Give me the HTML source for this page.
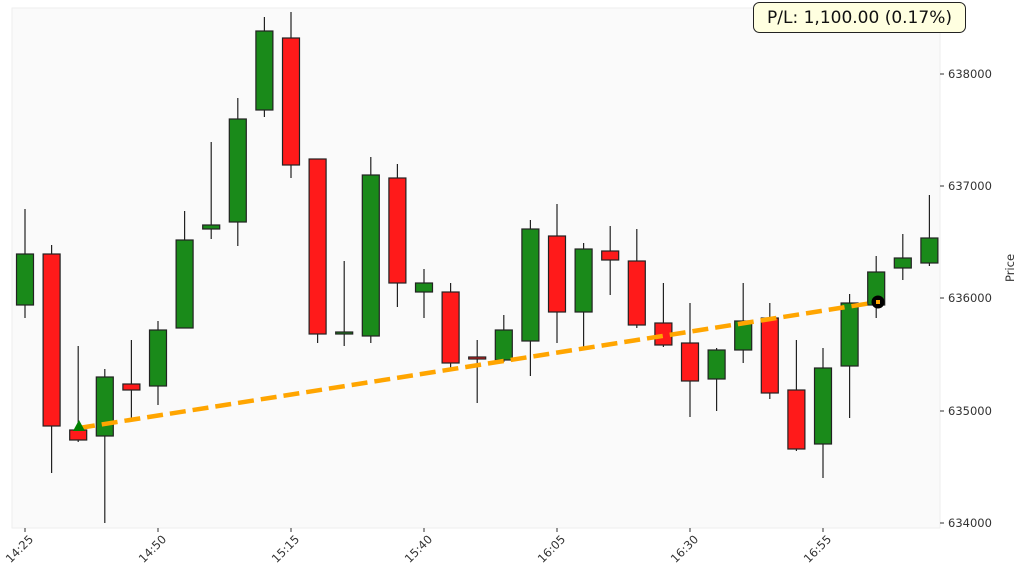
<!DOCTYPE html>
<html><head><meta charset="utf-8"><style>
body{margin:0;background:#fff;}
svg{display:block;font-family:"DejaVu Sans","Liberation Sans",sans-serif;}
</style></head><body>
<svg width="1024" height="579" viewBox="0 0 1024 579" xmlns="http://www.w3.org/2000/svg">
<rect x="12" y="8" width="928" height="520" fill="#fafafa" stroke="#eeeeee"/>
<g id="c" stroke="#222" stroke-width="1.2"></g>
<g font-size="11.5" fill="#333">
<line x1="940" y1="74" x2="944" y2="74" stroke="#333"/><text x="948" y="78">638000</text>
<line x1="940" y1="186" x2="944" y2="186" stroke="#333"/><text x="948" y="190">637000</text>
<line x1="940" y1="298" x2="944" y2="298" stroke="#333"/><text x="948" y="302">636000</text>
<line x1="940" y1="411" x2="944" y2="411" stroke="#333"/><text x="948" y="415">635000</text>
<line x1="940" y1="523" x2="944" y2="523" stroke="#333"/><text x="948" y="527">634000</text>
<text transform="translate(1014,268) rotate(-90)" text-anchor="middle">Price</text>
</g>
<g font-size="11.5" fill="#333" id="xt"></g>
<line x1="79" y1="428" x2="878" y2="302" stroke="#ffa500" stroke-width="4.5" stroke-dasharray="16,7"/>
<polygon points="79,420 73,431 85,431" fill="#008000"/>
<circle cx="878" cy="302" r="6.5" fill="#000"/>
<rect x="876" y="300" width="4" height="4" fill="#ffa500"/>
<rect x="753.5" y="2.5" width="212" height="30" rx="6" fill="#ffffe0" stroke="#222"/>
<text x="859.5" y="23" font-size="17" text-anchor="middle" fill="#111">P/L: 1,100.00 (0.17%)</text>
</svg>
<script>
var d=[["G",254,305,209,318],["R",254,426,245,473],["R",430,440,346,442],["G",377,436,369,523],["R",384,390,340,420],["G",330,386,321,405],["G",240,328,211,328],["G",225,229,142,239],["G",119,222,98,246],["G",31,110,17,117],["R",38,165,12,178],["R",159,334,159,343],["G",332,334,261,346],["G",175,336,157,343],["R",178,283,164,307],["G",283,292,269,318],["R",292,363,283,368],["R",357,359,340,403],["G",330,360,315,362],["G",229,341,220,376],["R",236,312,204,343],["G",249,312,243,347],["R",251,260,226,295],["R",261,325,229,328],["R",323,345,283,347],["R",343,381,303,417],["G",350,379,348,411],["G",321,350,283,363],["R",318,393,303,399],["R",390,449,340,451],["G",368,444,348,478],["G",303,366,294,418],["G",272,305,256,318],["G",258,268,234,280],["G",238,263,195,266]];
var g=document.getElementById("c"),s="";
d.forEach(function(c,i){var x=25+i*26.6;s+='<line x1="'+x+'" y1="'+c[3]+'" x2="'+x+'" y2="'+c[4]+'"/>';s+='<rect x="'+(x-8.5)+'" y="'+c[1]+'" width="17" height="'+Math.max(2,c[2]-c[1])+'" fill="'+(c[0]=="G"?"#1a8a1a":"#ff1a1a")+'"/>';});
g.innerHTML=s;
var t=["14:25","14:50","15:15","15:40","16:05","16:30","16:55"],xt=document.getElementById("xt"),u="";
t.forEach(function(l,i){var x=25+i*133;u+='<line x1="'+x+'" y1="528" x2="'+x+'" y2="532" stroke="#333"/><text transform="translate('+(x+9)+',540) rotate(-45)" text-anchor="end">'+l+'</text>';});
xt.innerHTML=u;
</script>
</body></html>
